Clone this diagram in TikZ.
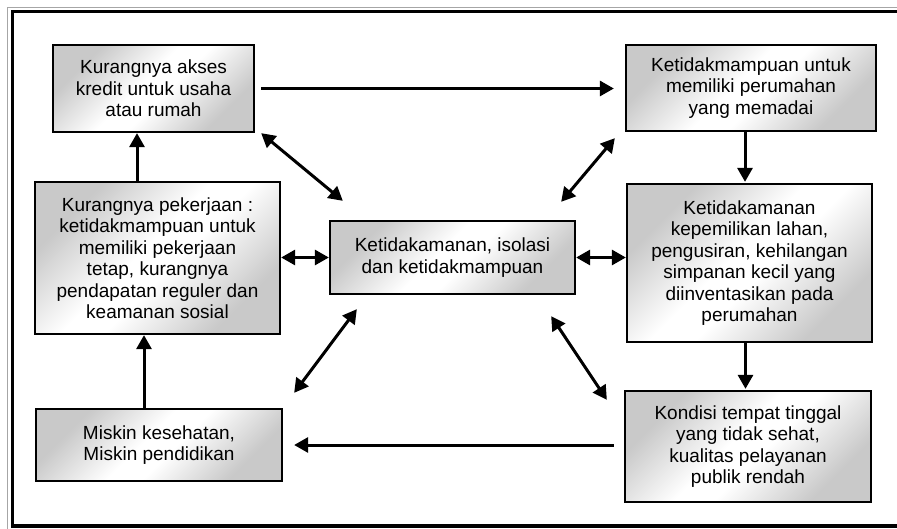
\documentclass[tikz,border=0pt]{standalone}
\usepackage{fontspec}
\setmainfont{Liberation Sans}
\usetikzlibrary{arrows.meta,calc}
\pgfdeclareverticalshading{boxshade}{100bp}{color(0bp)=(black!21); color(27bp)=(black!21); color(46bp)=(white); color(54bp)=(white); color(73bp)=(black!21); color(100bp)=(black!21)}
\tikzset{
  box/.style={draw=black, line width=2.3pt, inner sep=0pt, align=center,
    shading=boxshade, shading angle=45,
    font=\fontsize{19}{21.5}\selectfont},
  arr/.style={line width=3pt, -{Triangle[length=14pt,width=15pt]}},
  darr/.style={line width=3pt, {Triangle[length=14pt,width=15pt]}-{Triangle[length=14pt,width=15pt]}},
}
\begin{document}
\begin{tikzpicture}[x=1pt,y=-1pt]
\useasboundingbox (0,0) rectangle (897,529);
\clip (0,0) rectangle (897,529);
\fill[white] (0,0) rectangle (897,529);
\draw[black!35, line width=0.8pt] (7,7) rectangle (905,533);
\draw[line width=3.8pt] (12.5,11.5) rectangle (900,526);

\node[box, minimum width=201pt, minimum height=87pt] (A) at (153.5,88.5)
  {Kurangnya akses\\kredit untuk usaha\\atau rumah};
\node[box, minimum width=250pt, minimum height=86pt] (B) at (751,88)
  {Ketidakmampuan untuk\\memiliki perumahan\\yang memadai};
\node[box, minimum width=245pt, minimum height=152pt] (C) at (157.5,258)
  {Kurangnya pekerjaan :\\ketidakmampuan untuk\\memiliki pekerjaan\\tetap, kurangnya\\pendapatan reguler dan\\keamanan sosial};
\node[box, minimum width=245pt, minimum height=73pt] (D) at (452.5,257.5)
  {Ketidakamanan, isolasi\\dan ketidakmampuan};
\node[box, minimum width=245pt, minimum height=158pt] (E) at (749.5,263)
  {Ketidakamanan\\kepemilikan lahan,\\pengusiran, kehilangan\\simpanan kecil yang\\diinventasikan pada\\perumahan};
\node[box, minimum width=246pt, minimum height=72pt] (F) at (159,445)
  {Miskin kesehatan,\\Miskin pendidikan};
\node[box, minimum width=246pt, minimum height=111pt] (G) at (748,446.5)
  {Kondisi tempat tinggal\\yang tidak sehat,\\kualitas pelayanan\\publik rendah};

% cycle arrows
\draw[arr, shorten <=6pt, shorten >=11pt] (A.east) -- (A.east -| B.west);
\draw[arr, shorten >=1pt] ([xshift=-6pt]B.south) -- ([xshift=-6pt]B.south |- E.north);
\draw[arr, shorten >=1pt] ([xshift=-4pt]E.south) -- ([xshift=-4pt]E.south |- G.north);
\draw[arr, shorten <=10pt, shorten >=11pt] (G.west |- F.east) -- (F.east);
\draw[arr] ([xshift=-15pt]F.north) -- ([xshift=-15pt]F.north |- C.south);
\draw[arr] ([xshift=-20.5pt]C.north) -- ([xshift=-20.5pt]C.north |- A.south);

% horizontal double arrows
\draw[darr] (C.east |- D.west) -- (D.west);
\draw[darr] (D.east) -- (D.east -| E.west);

% diagonal double arrows
\coordinate (a1) at ($(A.south east)+(6,0)$);
\coordinate (a2) at ($(D.north west)+(14,-19)$);
\coordinate (b1) at ($(B.south west)+(-10,6)$);
\coordinate (b2) at ($(D.north east)+(-15,-18)$);
\coordinate (f1) at ($(F.north east)+(11,-15)$);
\coordinate (f2) at ($(D.south west)+(28,14)$);
\coordinate (g1) at ($(G.north west)+(-17,10)$);
\coordinate (g2) at ($(D.south east)+(-25,21)$);
\draw[darr] (a1) -- (a2);
\draw[darr] (b1) -- (b2);
\draw[darr] (f1) -- (f2);
\draw[darr] (g1) -- (g2);
\end{tikzpicture}
\end{document}
